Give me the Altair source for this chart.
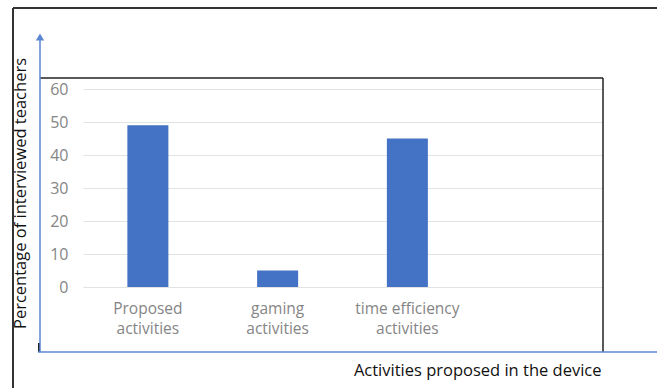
import altair as alt
import pandas as pd

categories = ["Proposed|activities", "gaming|activities", "time efficiency|activities"]
values = [49, 5, 45]
domain_cats = categories + [""]
y_ticks = [0, 10, 20, 30, 40, 50, 60]
x_title = "Activities proposed in the device"
y_title = "Percentage of interviewed teachers"

df = pd.DataFrame({"cat": categories, "val": values})

FONT = "Open Sans"
BLUE = "#4472c4"
AXBLUE = "#5a86d2"
LABEL = "#858585"
one = alt.Data(values=[{"a": 1}])

bars = alt.Chart(df).mark_bar(color=BLUE).encode(
    x=alt.X("cat:N", sort=domain_cats,
            scale=alt.Scale(domain=domain_cats, paddingInner=0.684, paddingOuter=0.342),
            axis=alt.Axis(title=x_title, labelExpr="split(datum.value, '|')",
                          labelAngle=0, labelColor=LABEL, labelFont=FONT, labelFontSize=15.5,
                          labelPadding=14, labelLineHeight=20, domain=False, ticks=False,
                          titleFont=FONT, titleFontSize=16.5, titleFontWeight="normal",
                          titleColor="#111", titleAlign="right", titleAnchor="end",
                          titleX=518, titleY=83, titleBaseline="middle")),
    y=alt.Y("val:Q", scale=alt.Scale(domain=[0, 60], nice=False),
            axis=alt.Axis(title=y_title, values=y_ticks, labelColor=LABEL, labelFont=FONT,
                          labelFontSize=16, labelPadding=15, domain=False, ticks=False,
                          grid=True, gridColor="#e2e2e2", gridWidth=1,
                          titleFont=FONT, titleFontSize=16.5, titleFontWeight="normal",
                          titleColor="#111", titleAngle=270, titleX=-63, titleY=104,
                          titleAlign="center", titleBaseline="middle")),
)

def hrule(y, x1, x2, color, w):
    return alt.Chart(one).mark_rule(color=color, strokeWidth=w).encode(
        x=alt.value(x1), x2=alt.value(x2), y=alt.value(y))

def vrule(x, y1, y2, color, w):
    return alt.Chart(one).mark_rule(color=color, strokeWidth=w).encode(
        x=alt.value(x), y=alt.value(y1), y2=alt.value(y2))

decor = [
    hrule(-81, -70, 574, "#333", 2),
    vrule(-70, -81, 299, "#333", 2),
    hrule(-11, -43, 520, "#222", 1.5),
    vrule(520, -11, 263, "#222", 1.5),
    vrule(-44, 254, 263, "#222", 2),
    vrule(-43, -50, 263, AXBLUE, 1.5),
    hrule(263, -45, 574, AXBLUE, 1.5),
]
arrow = alt.Chart(one).mark_point(shape="triangle-up", filled=True, color=AXBLUE,
                                  opacity=1, size=70).encode(
    x=alt.value(-43), y=alt.value(-52))

chart = alt.layer(bars, *decor, arrow).properties(
    width=519, height=198,
    autosize=alt.AutoSizeParams(type="none"),
    padding={"left": 83, "top": 89, "right": 55, "bottom": 101},
    background="white",
).configure_view(stroke=None)

chart.save("out.html", embed_options={"renderer": "svg", "actions": False})
